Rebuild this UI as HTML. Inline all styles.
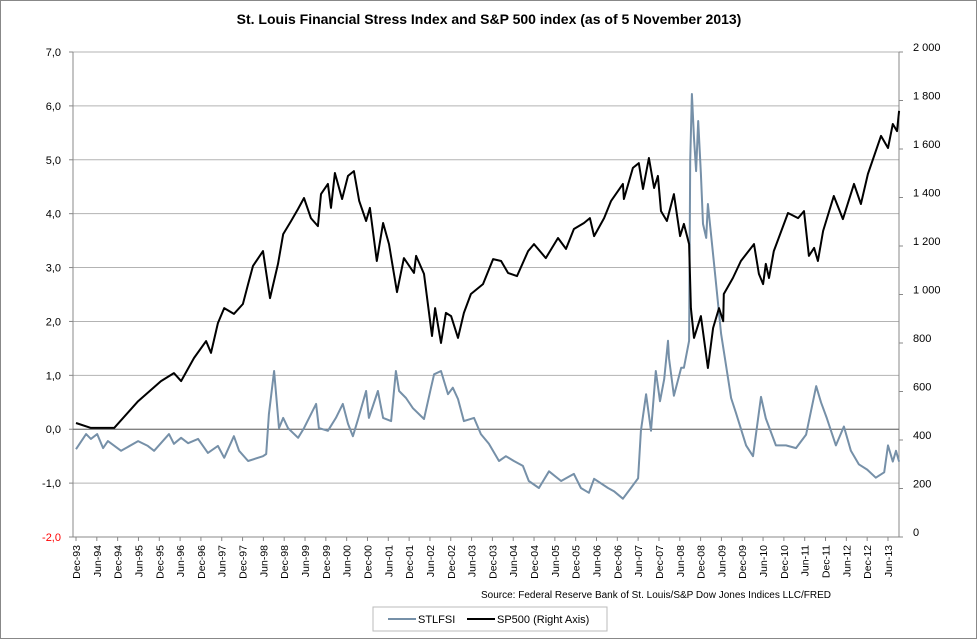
<!DOCTYPE html>
<html><head><meta charset="utf-8"><style>
body{margin:0;background:#fff;font-family:"Liberation Sans",sans-serif}
#wrap{position:relative;width:975px;height:637px;border:1px solid #888;overflow:hidden}
svg text{font-family:"Liberation Sans",sans-serif}
</style></head><body>
<div id="wrap">
<svg id="c" width="975" height="637"></svg>
</div>
<script>
// months since Dec-1993
const spMonths=[0,4.3,11.0,17.9,24.5,28.2,30.3,34.0,37.5,38.9,40.9,42.7,45.5,48.1,49.6,51.0,53.9,55.9,58.2,59.7,62.0,64.0,65.7,67.7,69.7,70.6,72.6,73.5,74.6,76.7,78.4,80.1,81.6,83.6,84.7,86.7,88.5,90.2,92.5,94.5,97.4,98.0,100.3,102.6,103.5,105.2,106.6,108.1,110.1,111.8,113.8,117.3,120.2,122.5,124.5,127.1,130.3,132.0,135.4,138.9,141.2,143.5,146.4,148.1,149.3,152.2,154.2,157.6,157.9,160.5,162.2,163.4,165.1,166.6,167.7,168.6,170.3,172.3,174.1,175.2,176.7,177.2,178.1,180.1,182.1,183.6,185.3,186.5,186.7,189.3,191.6,195.4,196.8,198.0,198.8,199.7,201.1,205.2,208.1,209.8,211.2,212.7,213.8,215.3,218.4,221.0,224.2,226.2,228.2,232.0,234.0,235.4,236.6,237.2];
const spValues=[470,450,450,560,643,676,643,738,808,759,882,944,920,961,1043,1118,1179,985,1126,1249,1303,1353,1398,1315,1282,1414,1456,1357,1501,1394,1489,1509,1386,1303,1357,1138,1295,1208,1010,1150,1089,1159,1085,829,944,800,924,911,821,924,1002,1043,1146,1138,1089,1076,1179,1208,1150,1233,1188,1270,1295,1315,1241,1315,1386,1456,1394,1522,1542,1435,1563,1439,1489,1344,1303,1414,1241,1291,1208,944,821,911,697,862,944,890,1002,1068,1138,1208,1085,1043,1126,1068,1179,1336,1315,1344,1159,1192,1138,1262,1406,1311,1456,1373,1497,1654,1604,1703,1674,1757];
const fsMonths=[0,2.9,4.3,6.1,7.8,9.2,13.0,17.9,20.7,22.5,26.8,28.2,30.3,32.3,35.2,38.0,40.9,42.7,45.5,47.0,49.6,53.9,54.8,55.6,57.1,58.5,59.7,61.1,64.0,65.7,69.2,70.0,72.6,74.9,76.9,78.4,79.8,81.3,83.6,84.4,87.0,88.5,90.8,92.2,93.1,95.1,97.1,100.3,102.3,103.2,105.2,107.2,108.6,110.1,111.8,114.7,116.7,119.0,121.9,123.9,126.2,128.8,130.5,133.4,136.3,139.8,143.5,145.5,147.8,149.3,153.3,155.0,157.6,159.9,162.0,162.8,164.3,165.7,167.1,168.3,169.5,170.6,170.9,172.3,174.4,175.2,176.7,177.0,177.5,178.1,178.7,179.3,180.1,180.7,181.6,182.1,183.0,183.9,185.9,187.9,188.8,190.2,193.1,195.1,197.4,198.8,201.7,204.6,207.5,210.4,213.3,214.7,216.4,219.0,221.3,223.3,225.6,228.0,230.5,232.9,234.0,235.4,236.3,237.2];
const fsValues=[-0.37,-0.09,-0.18,-0.09,-0.35,-0.22,-0.40,-0.22,-0.31,-0.40,-0.09,-0.27,-0.16,-0.26,-0.18,-0.44,-0.31,-0.53,-0.13,-0.40,-0.59,-0.50,-0.46,0.28,1.08,0.02,0.21,0.02,-0.16,0.02,0.47,0.02,-0.03,0.21,0.47,0.10,-0.13,0.19,0.71,0.21,0.71,0.21,0.15,1.08,0.71,0.58,0.39,0.19,0.77,1.02,1.08,0.65,0.77,0.56,0.15,0.21,-0.09,-0.27,-0.59,-0.50,-0.59,-0.68,-0.96,-1.09,-0.78,-0.96,-0.83,-1.09,-1.18,-0.92,-1.09,-1.15,-1.29,-1.09,-0.91,-0.03,0.65,-0.03,1.08,0.52,0.93,1.64,1.32,0.62,1.14,1.14,1.64,4.98,6.22,5.40,4.79,5.72,4.74,3.81,3.55,4.18,3.62,3.06,1.77,0.95,0.58,0.30,-0.30,-0.50,0.60,0.20,-0.30,-0.30,-0.35,-0.10,0.80,0.50,0.20,-0.30,0.05,-0.40,-0.65,-0.75,-0.90,-0.80,-0.30,-0.60,-0.40,-0.60];
const leftTicks=["7,0","6,0","5,0","4,0","3,0","2,0","1,0","0,0","-1,0","-2,0"];
const rightTicks=["2 000","1 800","1 600","1 400","1 200","1 000","800","600","400","200","0"];
const xLabels=["Dec-93","Jun-94","Dec-94","Jun-95","Dec-95","Jun-96","Dec-96","Jun-97","Dec-97","Jun-98","Dec-98","Jun-99","Dec-99","Jun-00","Dec-00","Jun-01","Dec-01","Jun-02","Dec-02","Jun-03","Dec-03","Jun-04","Dec-04","Jun-05","Dec-05","Jun-06","Dec-06","Jun-07","Dec-07","Jun-08","Dec-08","Jun-09","Dec-09","Jun-10","Dec-10","Jun-11","Dec-11","Jun-12","Dec-12","Jun-13"];

const NS="http://www.w3.org/2000/svg";
const svg=document.getElementById('c');
const L=72,R=898,T=51,B=536;
const yL=v=>B-(v+2)/9*(B-T);
const yR=v=>B-v/2000*(B-T);
const xM=m=>75+m*3.47;
function el(tag,attrs){const e=document.createElementNS(NS,tag);for(const k in attrs)e.setAttribute(k,attrs[k]);svg.appendChild(e);return e;}

const title=el('text',{x:488,y:23,'text-anchor':'middle','font-size':'14','font-weight':'bold',fill:'#000'});
title.textContent="St. Louis Financial Stress Index and S&P 500 index (as of 5 November 2013)";



leftTicks.forEach((t,i)=>{
  const v=7-i,y=yL(v);
  const g=el('line',{x1:L,x2:R,y1:y,y2:y,stroke:'#b3b3b3','stroke-width':1});
  
  
  const tk=el('line',{x1:L-4,x2:L,y1:y,y2:y,stroke:'#888'});
  
  
  const tx=el('text',{x:L-12,y:y+4,'text-anchor':'end','font-size':'11',fill:v===-2?'#ff0000':'#000'});
  tx.textContent=t;
  
  
});
rightTicks.forEach((t,i)=>{
  const v=2000-i*200,y=yR(v);
  const tk=el('line',{x1:R,x2:R+4,y1:y,y2:y,stroke:'#888'});
  
  
  const tx=el('text',{x:R+14,y:y-1,'text-anchor':'start','font-size':'11',fill:'#000'});
  tx.textContent=t;
  
  
});
const la=el('line',{x1:L,x2:L,y1:T,y2:B,stroke:'#888'});


const ra=el('line',{x1:R,x2:R,y1:T,y2:B,stroke:'#888'});


const ba=el('line',{x1:L,x2:R,y1:B,y2:B,stroke:'#888'});


const za=el('line',{x1:L,x2:R,y1:yL(0),y2:yL(0),stroke:'#666'});



xLabels.forEach((t,i)=>{
  const x=xM(i*6);
  const tk=el('line',{x1:x,x2:x,y1:B,y2:B+4,stroke:'#888'});
  
  
  const tx=el('text',{x:0,y:0,'text-anchor':'end','font-size':'10.5',fill:'#000',transform:`translate(${x+4},${B+8}) rotate(-90)`});
  tx.textContent=t;
  
  
});

const fsPts=fsMonths.map((m,i)=>xM(m).toFixed(1)+','+yL(fsValues[i]).toFixed(1)).join(' ');
const fs=el('polyline',{points:fsPts,fill:'none',stroke:'#7690a8','stroke-width':2,'stroke-linejoin':'round'});


const spPts=spMonths.map((m,i)=>xM(m).toFixed(1)+','+yR(spValues[i]).toFixed(1)).join(' ');
const sp=el('polyline',{points:spPts,fill:'none',stroke:'#000','stroke-width':2,'stroke-linejoin':'round'});



const src=el('text',{x:655,y:597,'text-anchor':'middle','font-size':'10',fill:'#000'});
src.textContent="Source: Federal Reserve Bank of St. Louis/S&P Dow Jones Indices LLC/FRED";



const lb=el('rect',{x:372,y:606,width:234,height:24,fill:'#fff',stroke:'#bbb'});


const l1=el('line',{x1:387,x2:415,y1:618,y2:618,stroke:'#7690a8','stroke-width':2});


const t1=el('text',{x:417,y:622,'font-size':'11',fill:'#000'});t1.textContent="STLFSI";


const l2=el('line',{x1:466,x2:494,y1:618,y2:618,stroke:'#000','stroke-width':2});


const t2=el('text',{x:496,y:622,'font-size':'11',fill:'#000'});t2.textContent="SP500 (Right Axis)";


</script>
</body></html>
